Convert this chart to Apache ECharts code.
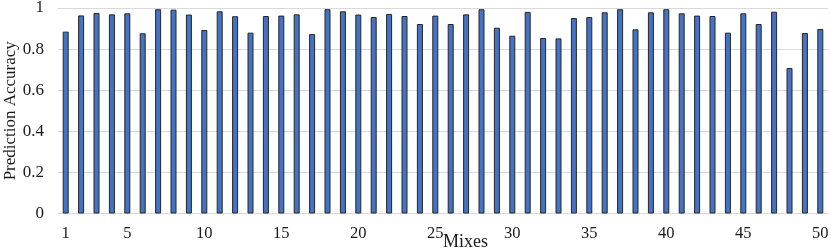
<!DOCTYPE html>
<html>
<head>
<meta charset="utf-8">
<script src="https://cdn.jsdelivr.net/npm/echarts@6/dist/echarts.min.js"></script>
<style>html,body{margin:0;padding:0;background:#fff}#c{width:831px;height:249px}</style>
</head>
<body>
<div id="c"></div>
<script>
const categories = Array.from({length: 50}, (_, i) => String(i + 1));
const accuracy = [
  0.885, 0.964, 0.976, 0.969, 0.974, 0.877, 0.994, 0.992, 0.968, 0.893,
  0.984, 0.960, 0.880, 0.961, 0.963, 0.969, 0.873, 0.994, 0.984, 0.968,
  0.956, 0.971, 0.961, 0.922, 0.963, 0.922, 0.969, 0.994, 0.904, 0.865,
  0.981, 0.854, 0.852, 0.951, 0.956, 0.979, 0.994, 0.896, 0.979, 0.994,
  0.974, 0.963, 0.961, 0.880, 0.974, 0.922, 0.982, 0.708, 0.878, 0.898
];
const yTicks = [0, 0.2, 0.4, 0.6, 0.8, 1];
const shownLabels = ['1', '5', '10', '15', '20', '25', '30', '35', '40', '45', '50'];

const font = 'Liberation Serif, Times New Roman, serif';
const chart = echarts.init(document.getElementById('c'));
chart.setOption({
  animation: false,
  grid: {left: 58, right: 3, top: 8, bottom: 35.5, containLabel: false, outerBoundsMode: 'none'},
  xAxis: {
    type: 'category',
    data: categories,
    name: 'Mixes',
    nameLocation: 'middle',
    nameGap: 20,
    nameMoveOverlap: false,
    nameTextStyle: {color: '#1a1a1a', fontFamily: font, fontSize: 18, padding: [0, 0, 0, 45]},
    axisLine: {show: false},
    axisTick: {show: false},
    axisLabel: {
      interval: 0,
      formatter: v => shownLabels.includes(v) ? v : '',
      color: '#1a1a1a', fontFamily: font, fontSize: 16.5, margin: 12
    }
  },
  yAxis: {
    type: 'value',
    min: 0, max: 1, interval: 0.2,
    name: 'Prediction Accuracy',
    nameLocation: 'middle',
    nameGap: 39,
    nameMoveOverlap: false,
    nameTextStyle: {color: '#1a1a1a', fontFamily: font, fontSize: 17},
    axisLine: {show: false},
    axisTick: {show: false},
    axisLabel: {
      color: '#1a1a1a', fontFamily: font, fontSize: 17, margin: 14,
      formatter: v => { const t = yTicks.find(k => Math.abs(k - v) < 1e-9); return t === undefined ? '' : String(t); }
    },
    splitLine: {lineStyle: {color: '#d9d9d9', width: 1}}
  },
  series: [{
    type: 'bar',
    data: accuracy,
    barWidth: 6,
    itemStyle: {color: '#4472c4', borderColor: '#262626', borderWidth: 1}
  }]
});
</script>
</body>
</html>
